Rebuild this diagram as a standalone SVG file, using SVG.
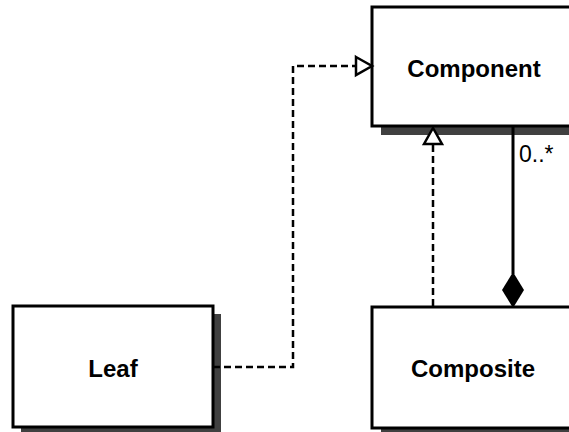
<svg xmlns="http://www.w3.org/2000/svg" width="569" height="432" viewBox="0 0 569 432">
  <style>
    .box { fill: #ffffff; stroke: #000000; stroke-width: 3; }
    .shadow { fill: #404040; }
    .label { font-family: "Liberation Sans", Arial, sans-serif; font-weight: bold; font-size: 24px; text-anchor: middle; fill: #000000; }
    .dash { fill: none; stroke: #000000; stroke-width: 2.5; stroke-dasharray: 7 4; }
    .solid { fill: none; stroke: #000000; stroke-width: 3; }
    .mult { font-family: "Liberation Sans", Arial, sans-serif; font-size: 23px; fill: #000000; }
  </style>
  <rect width="569" height="432" fill="#ffffff"/>

  <g id="component">
    <rect class="shadow" x="381" y="15" width="200" height="120"/>
    <rect class="box" x="372" y="7" width="210" height="119"/>
    <text class="label" x="474" y="77">Component</text>
  </g>

  <g id="leaf">
    <rect class="shadow" x="21" y="314" width="200" height="121"/>
    <rect class="box" x="13" y="306" width="200" height="121"/>
    <text class="label" x="113" y="377">Leaf</text>
  </g>

  <g id="composite">
    <rect class="shadow" x="381" y="315" width="200" height="121"/>
    <rect class="box" x="372" y="307" width="210" height="121"/>
    <text class="label" x="473" y="377">Composite</text>
  </g>

  <g id="connectors">
    <!-- Leaf realizes Component -->
    <polyline class="dash" points="213,367 293,367 293,66 356,66"/>
    <polygon points="356,57 372,66 356,75" fill="#ffffff" stroke="#000000" stroke-width="2.5"/>
    <!-- Composite realizes Component -->
    <line class="dash" x1="433" y1="306" x2="433" y2="144"/>
    <polygon points="424,144 433,128 442,144" fill="#ffffff" stroke="#000000" stroke-width="2.5"/>
    <!-- composition: Composite owns Components -->
    <line class="solid" x1="513" y1="127" x2="513" y2="274"/>
    <polygon points="513,272 524,290 513,308 502,290" fill="#000000"/>
    <text class="mult" x="519" y="162">0..*</text>
  </g>
</svg>
